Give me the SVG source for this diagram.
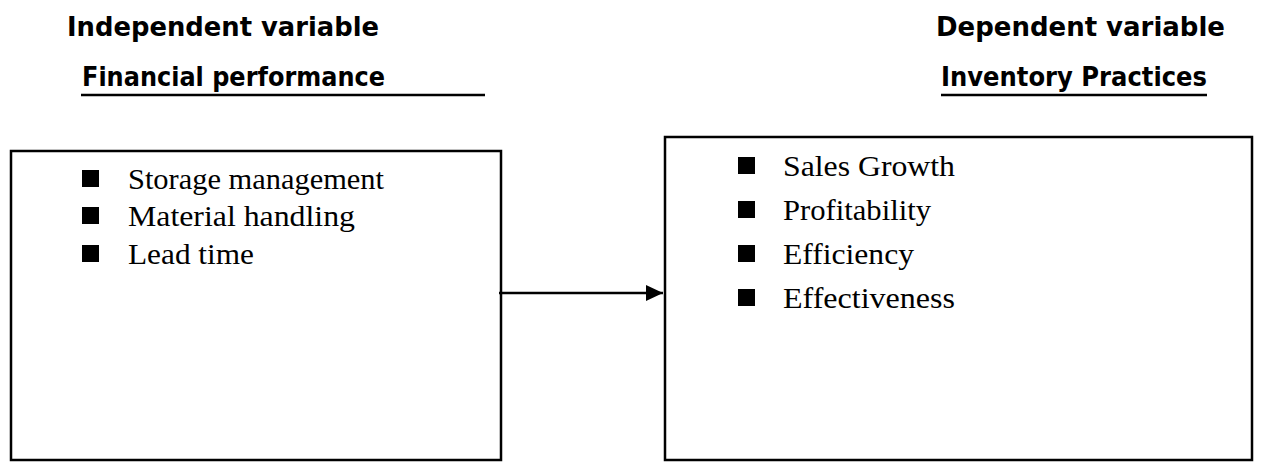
<svg xmlns="http://www.w3.org/2000/svg" width="1261" height="462" viewBox="0 0 1261 462">
<style>
.h{font-family:"DejaVu Sans","Liberation Sans",sans-serif;font-weight:bold;font-size:27px;fill:#000}
.t{font-family:"Liberation Serif","Times New Roman",serif;font-size:30px;fill:#000}
.box{fill:#fff;stroke:#000;stroke-width:2.5}
.ul{stroke:#000;stroke-width:2.5}
.b{fill:#000}
</style>
<defs>
<marker id="ah" viewBox="0 0 17 16" refX="17" refY="8" markerWidth="17" markerHeight="16" markerUnits="userSpaceOnUse" orient="auto">
<path d="M0,0 L17,8 L0,16 Z" fill="#000"/>
</marker>
</defs>
<g id="headings">
<text class="h" x="67" y="36" textLength="312" lengthAdjust="spacingAndGlyphs">Independent variable</text>
<text class="h" x="82" y="86" textLength="303" lengthAdjust="spacingAndGlyphs">Financial performance</text>
<line class="ul" x1="81" y1="95" x2="485" y2="95"/>
<text class="h" x="936" y="36" textLength="289" lengthAdjust="spacingAndGlyphs">Dependent variable</text>
<text class="h" x="941" y="86" textLength="266" lengthAdjust="spacingAndGlyphs">Inventory Practices</text>
<line class="ul" x1="941" y1="95" x2="1207" y2="95"/>
</g>
<g id="independent">
<rect class="box" x="11" y="151" width="490" height="309"/>
<rect class="b" x="82" y="170" width="17" height="17"/>
<text class="t" x="128" y="189" textLength="256" lengthAdjust="spacingAndGlyphs">Storage management</text>
<rect class="b" x="82" y="207" width="17" height="17"/>
<text class="t" x="128" y="226" textLength="227" lengthAdjust="spacingAndGlyphs">Material handling</text>
<rect class="b" x="82" y="245" width="17" height="17"/>
<text class="t" x="128" y="264" textLength="126" lengthAdjust="spacingAndGlyphs">Lead time</text>
</g>
<g id="dependent">
<rect class="box" x="665" y="137" width="587" height="323"/>
<rect class="b" x="738" y="157" width="17" height="17"/>
<text class="t" x="783" y="176" textLength="172" lengthAdjust="spacingAndGlyphs">Sales Growth</text>
<rect class="b" x="738" y="201" width="17" height="17"/>
<text class="t" x="783" y="220" textLength="148" lengthAdjust="spacingAndGlyphs">Profitability</text>
<rect class="b" x="738" y="245" width="17" height="17"/>
<text class="t" x="783" y="264" textLength="131" lengthAdjust="spacingAndGlyphs">Efficiency</text>
<rect class="b" x="738" y="289" width="17" height="17"/>
<text class="t" x="783" y="308" textLength="172" lengthAdjust="spacingAndGlyphs">Effectiveness</text>
</g>
<g id="connectors">
<line x1="499" y1="293" x2="663" y2="293" stroke="#000" stroke-width="2.5" marker-end="url(#ah)"/>
</g>
</svg>
